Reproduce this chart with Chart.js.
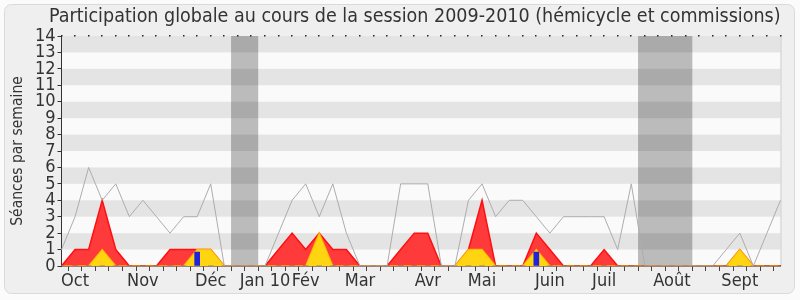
<!DOCTYPE html>
<html>
<head>
<meta charset="utf-8">
<script src="https://cdn.jsdelivr.net/npm/chart.js@4"></script>
<style>
  html, body { margin: 0; padding: 0; background: #ffffff; }
  #wrap { width: 800px; height: 300px; }
</style>
</head>
<body>
<div id="wrap"><canvas id="chart" width="800" height="300"></canvas></div>
<script>
/* ── Data ─────────────────────────────────────────────────────────────────── */
// one entry per week of the 2009-2010 session, month name where a month starts
const WEEK_LABELS = [
  '', 'Oct', '', '', '', '', 'Nov', '', '', '', '', 'Déc', '', '', '',
  'Jan 10', '', '', 'Fév', '', '', '', 'Mar', '', '', '', '', 'Avr', '', '',
  '', 'Mai', '', '', '', '', 'Juin', '', '', '', 'Juil', '', '', '', '',
  'Août', '', '', '', '', 'Sept', '', '', ''
];
const TOTAL      = [1,3,6,4,5,3,4,3,2,3,3,5,0,0,0,0,2,4,5,3,5,2,0,0,0,5,5,5,0,0,4,5,3,4,4,3,2,3,3,3,3,1,5,0,0,0,0,0,0,1,2,0,2,4];
const PRESENCES  = [0,1,1,4,1,0,0,0,1,1,1,1,0,0,0,0,1,2,1,2,1,1,0,0,0,1,2,2,0,0,1,4,0,0,0,2,1,0,0,0,1,0,0,0,0,0,0,0,0,0,1,0,0,0];
const INTERV     = [0,0,0,1,0,0,0,0,0,0,1,1,0,0,0,0,0,0,0,2,0,0,0,0,0,0,0,0,0,0,1,1,0,0,0,1,0,0,0,0,0,0,0,0,0,0,0,0,0,0,1,0,0,0];
const QUESTIONS  = [0,0,0,0,0,0,0,0,0,0,0.85,0,0,0,0,0,0,0,0,0,0,0,0,0,0,0,0,0,0,0,0,0,0,0,0,0.85,0,0,0,0,0,0,0,0,0,0,0,0,0,0,0,0,0,0];
// holiday periods, as [first week, last week]
const VACANCES   = [[13, 14], [43, 46]];
const Y_MAX = 14;

/* ── Plugins ──────────────────────────────────────────────────────────────── */
const backdrop = {
  id: 'backdrop',
  beforeDraw(chart) {
    const { ctx, chartArea: a, scales: { x, y } } = chart;
    ctx.save();
    // outer frame
    ctx.fillStyle = '#fbfbfb';
    ctx.fillRect(0, 0, chart.width, chart.height);
    ctx.beginPath();
    ctx.roundRect(4.5, 4.5, 790, 289, 7);
    ctx.fillStyle = '#efefef';
    ctx.fill();
    ctx.strokeStyle = '#dadada';
    ctx.lineWidth = 1;
    ctx.stroke();
    // plot area
    ctx.fillStyle = '#fafafa';
    ctx.fillRect(a.left, a.top, a.right - a.left, a.bottom - a.top);
    const step = x.getPixelForValue(1) - x.getPixelForValue(0);
    ctx.fillStyle = '#bbbbbb';
    VACANCES.forEach(([s, e]) => {
      const x0 = x.getPixelForValue(s) - step / 2;
      const x1 = x.getPixelForValue(e) + step / 2;
      ctx.fillRect(x0, a.top, x1 - x0, a.bottom - a.top);
    });
    ctx.fillStyle = 'rgba(0,0,0,0.085)';
    for (let v = 1; v < Y_MAX; v += 2) {
      const y0 = y.getPixelForValue(v + 1), y1 = y.getPixelForValue(v);
      ctx.fillRect(a.left, y0, a.right - a.left, y1 - y0);
    }
    // right edge
    ctx.fillStyle = '#cfcfcf';
    ctx.fillRect(a.right, a.top, 1, a.bottom - a.top);
    ctx.restore();
  },
  afterDraw(chart) {
    const { ctx, chartArea: a, scales: { x } } = chart;
    ctx.save();
    ctx.fillStyle = '#222';
    WEEK_LABELS.forEach((_, i) => {
      const px = Math.round(x.getPixelForValue(i));
      ctx.fillRect(px - 1, a.top - 1, 1.5, 1.5);
    });
    ctx.restore();
  }
};

/* ── Chart ────────────────────────────────────────────────────────────────── */
const AXIS_FONT = { family: "'Liberation Sans Narrow', 'DejaVu Sans Condensed', sans-serif", size: 18 };

new Chart(document.getElementById('chart'), {
  data: {
    labels: WEEK_LABELS,
    datasets: [
      {
        type: 'line',
        data: TOTAL,
        borderColor: '#adadad',
        borderWidth: 1,
        pointRadius: 0,
        fill: false,
        order: 0
      },
      {
        type: 'bar',
        data: QUESTIONS,
        backgroundColor: '#2222dd',
        barThickness: 5,
        order: 1
      },
      {
        type: 'line',
        data: INTERV,
        borderColor: 'rgba(255,205,0,0.75)',
        backgroundColor: '#ffd410',
        borderWidth: 1.5,
        pointRadius: 0,
        fill: 'origin',
        order: 2
      },
      {
        type: 'line',
        data: PRESENCES,
        borderColor: '#ff1010',
        backgroundColor: '#ff3a3a',
        borderWidth: 1.5,
        pointRadius: 0,
        fill: 'origin',
        order: 3
      }
    ]
  },
  options: {
    responsive: false,
    animation: false,
    layout: { padding: { left: 0, right: 19.5, top: 0, bottom: 0 } },
    plugins: {
      legend: { display: false },
      tooltip: { enabled: false },
      title: {
        display: true,
        align: 'end',
        text: 'Participation globale au cours de la session 2009-2010 (hémicycle et commissions)',
        color: '#333',
        font: { family: "'DejaVu Sans Condensed', sans-serif", size: 19.5, weight: 'normal', lineHeight: 1.2 },
        padding: { top: 5, bottom: 7.6 }
      }
    },
    scales: {
      x: {
        type: 'category',
        offset: false,
        grid: { drawOnChartArea: false, drawTicks: true, tickLength: 5, color: '#444' },
        border: { color: '#4a1800', width: 1.5 },
        ticks: {
          autoSkip: false, maxRotation: 0, padding: 0,
          color: '#333', font: AXIS_FONT
        },
        afterFit: scale => { scale.height = 34; }
      },
      y: {
        min: 0,
        max: Y_MAX,
        grid: { drawOnChartArea: false, drawTicks: true, tickLength: 4, color: '#333' },
        border: { color: '#333' },
        ticks: { stepSize: 1, autoSkip: false, padding: 2, color: '#333', font: AXIS_FONT },
        title: {
          display: true,
          text: 'Séances par semaine',
          color: '#333',
          font: { family: "'DejaVu Sans Condensed', sans-serif", size: 15.5 },
          padding: { top: 9, bottom: 0 }
        },
        afterFit: scale => { scale.width = 61.5; }
      }
    }
  },
  plugins: [backdrop]
});
</script>
</body>
</html>
